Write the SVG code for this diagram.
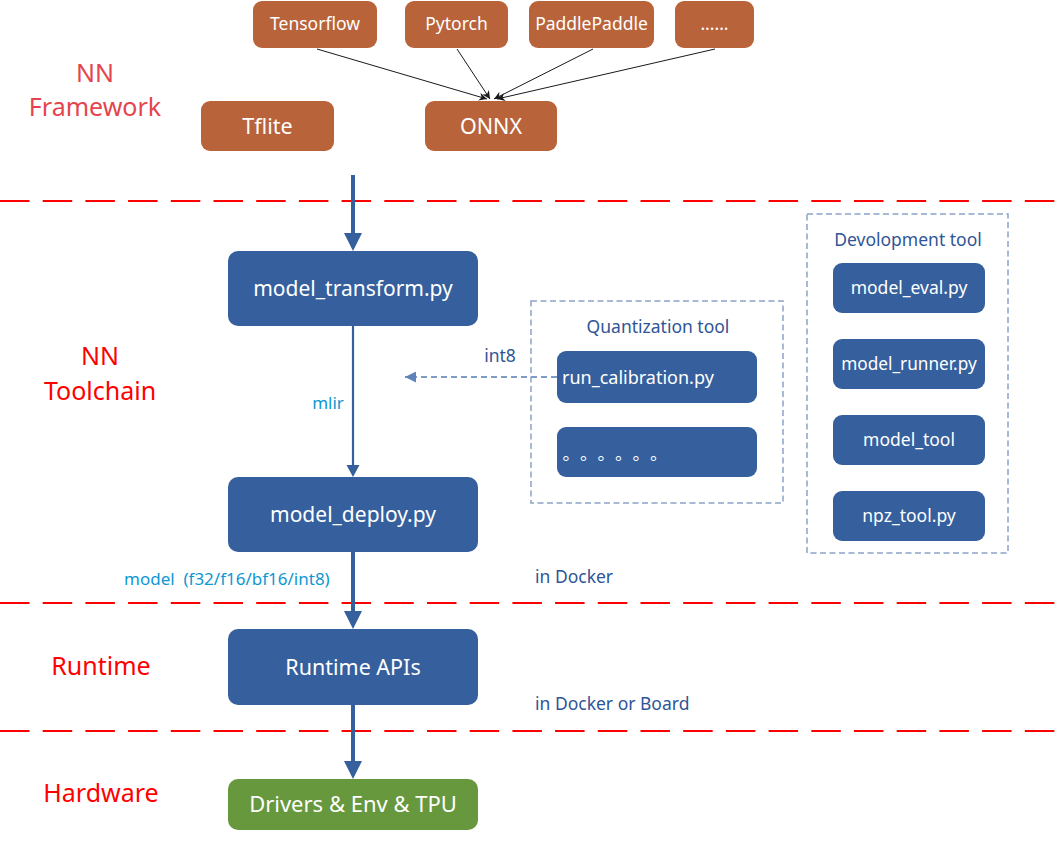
<svg xmlns="http://www.w3.org/2000/svg" width="1062" height="846" viewBox="0 0 1062 846">
<defs>
<style>
.or{fill:#B9633B}
.bl{fill:#355F9D}
.gr{fill:#67983E}
.wt{fill:#fff;font-family:"Noto Sans","Liberation Sans",sans-serif;text-anchor:middle}
.ws{fill:#fff;font-family:"Noto Sans","Liberation Sans",sans-serif;text-anchor:start}
.cjk{fill:#fff;font-family:"Noto Sans CJK SC",sans-serif;text-anchor:start}
.lbl{font-family:"Noto Sans","Liberation Sans",sans-serif;text-anchor:middle;font-size:25px}
.sep{stroke:#FF0000;stroke-width:2.2;stroke-dasharray:29.5 13.2;fill:none}
.grp{fill:none;stroke:#8BA3C7;stroke-width:1.5;stroke-dasharray:6 3.5}
.bt{font-family:"Noto Sans","Liberation Sans",sans-serif;fill:#2F5597;font-size:17.5px}
.lt{font-family:"Noto Sans","Liberation Sans",sans-serif;fill:#0E97D2;font-size:17px;white-space:pre}
</style>
<marker id="ab" viewBox="0 0 10 10" refX="10" refY="5" markerUnits="userSpaceOnUse" markerWidth="9" markerHeight="8" orient="auto"><path d="M0,0 L10,5 L0,10 L3,5 z" fill="#1a1a1a"/></marker>
<marker id="ad" viewBox="0 0 10 10" refX="10" refY="5" markerUnits="userSpaceOnUse" markerWidth="12" markerHeight="11" orient="auto"><path d="M0,0 L10,5 L0,10 z" fill="#5F82B8"/></marker>
</defs>
<rect width="1062" height="846" fill="#fff"/>

<g id="separators">
<line class="sep" x1="0" y1="201" x2="1062" y2="201"/>
<line class="sep" x1="0" y1="603" x2="1062" y2="603"/>
<line class="sep" x1="0" y1="731" x2="1062" y2="731"/>
</g>

<g id="labels">
<text class="lbl" x="95" y="82" fill="#E5444D">NN</text>
<text class="lbl" x="95" y="116" fill="#E5444D">Framework</text>
<text class="lbl" x="100" y="365" fill="#FF0000">NN</text>
<text class="lbl" x="100" y="400" fill="#FF0000">Toolchain</text>
<text class="lbl" x="101" y="675" fill="#FF0000">Runtime</text>
<text class="lbl" x="101" y="802" fill="#FF0000">Hardware</text>
</g>

<g id="quant_group">
<rect class="grp" x="531" y="301" width="252" height="202"/>
<text class="bt" x="658" y="333" text-anchor="middle">Quantization tool</text>
</g>
<g id="dev_group">
<rect class="grp" x="807" y="214" width="201" height="339"/>
<text class="bt" x="908" y="246" text-anchor="middle">Devolopment tool</text>
</g>

<g id="connectors">
<line x1="317" y1="49" x2="487" y2="99" stroke="#1a1a1a" stroke-width="1" marker-end="url(#ab)"/>
<line x1="457" y1="49" x2="490" y2="99" stroke="#1a1a1a" stroke-width="1" marker-end="url(#ab)"/>
<line x1="593" y1="49" x2="494" y2="99" stroke="#1a1a1a" stroke-width="1" marker-end="url(#ab)"/>
<line x1="715" y1="49" x2="497" y2="99" stroke="#1a1a1a" stroke-width="1" marker-end="url(#ab)"/>

<line x1="353" y1="175" x2="353" y2="234" stroke="#355F9D" stroke-width="4"/>
<polygon points="344,233 362,233 353,251" fill="#355F9D"/>

<line x1="353" y1="326" x2="353" y2="466" stroke="#355F9D" stroke-width="2.2"/>
<polygon points="346.5,465 359.5,465 353,477" fill="#355F9D"/>

<line x1="353" y1="552" x2="353" y2="612" stroke="#355F9D" stroke-width="4"/>
<polygon points="344,611 362,611 353,629" fill="#355F9D"/>

<line x1="353" y1="705" x2="353" y2="762" stroke="#355F9D" stroke-width="4"/>
<polygon points="344,761 362,761 353,779" fill="#355F9D"/>

<line x1="557" y1="377" x2="405" y2="377" stroke="#7F9CC6" stroke-width="1.8" stroke-dasharray="6 4" marker-end="url(#ad)"/>
<text class="bt" x="500" y="362" text-anchor="middle" font-size="17">int8</text>
<text class="lt" x="328" y="409" text-anchor="middle">mlir</text>
<text class="lt" x="124" y="585" xml:space="preserve">model  (f32/f16/bf16/int8)</text>
</g>

<g id="tensorflow"><rect class="or" x="253" y="1" width="124" height="47" rx="9"/><text class="wt" x="315" y="30" font-size="17.5">Tensorflow</text></g>
<g id="pytorch"><rect class="or" x="405" y="1" width="103" height="47" rx="9"/><text class="wt" x="456.5" y="30" font-size="17.5">Pytorch</text></g>
<g id="paddlepaddle"><rect class="or" x="529" y="1" width="125" height="47" rx="9"/><text class="wt" x="591.5" y="30" font-size="17.5">PaddlePaddle</text></g>
<g id="more"><rect class="or" x="675" y="1" width="79" height="47" rx="9"/><text class="wt" x="714.5" y="30" font-size="17.5">......</text></g>
<g id="tflite"><rect class="or" x="201" y="101" width="133" height="50" rx="9"/><text class="wt" x="267.5" y="134" font-size="21.5">Tflite</text></g>
<g id="onnx"><rect class="or" x="425" y="101" width="132" height="50" rx="9"/><text class="wt" x="491" y="134" font-size="21.5">ONNX</text></g>

<g id="model_transform"><rect class="bl" x="228" y="251" width="250" height="75" rx="10"/><text class="wt" x="353" y="296" font-size="21">model_transform.py</text></g>
<g id="model_deploy"><rect class="bl" x="228" y="477" width="250" height="75" rx="10"/><text class="wt" x="353" y="522" font-size="21">model_deploy.py</text></g>
<g id="run_calibration"><rect class="bl" x="557" y="351" width="200" height="52" rx="9"/><text class="ws" x="562" y="384" font-size="18">run_calibration.py</text></g>
<g id="quant_more"><rect class="bl" x="557" y="427" width="200" height="50" rx="9"/><text class="cjk" x="562.5 580 597.5 615 632.5 650" y="460" font-size="17.5">。。。。。。</text></g>

<g id="model_eval"><rect class="bl" x="833" y="263" width="152" height="50" rx="9"/><text class="wt" x="909" y="294" font-size="17.5">model_eval.py</text></g>
<g id="model_runner"><rect class="bl" x="833" y="339" width="152" height="50" rx="9"/><text class="wt" x="909" y="370" font-size="17.2">model_runner.py</text></g>
<g id="model_tool"><rect class="bl" x="833" y="415" width="152" height="50" rx="9"/><text class="wt" x="909" y="446" font-size="17.5">model_tool</text></g>
<g id="npz_tool"><rect class="bl" x="833" y="491" width="152" height="50" rx="9"/><text class="wt" x="909" y="522" font-size="17.5">npz_tool.py</text></g>

<text class="bt" x="535" y="583">in Docker</text>
<text class="bt" x="535" y="710">in Docker or Board</text>

<g id="runtime_apis"><rect class="bl" x="228" y="629" width="250" height="76" rx="10"/><text class="wt" x="353" y="675" font-size="21.5">Runtime APIs</text></g>
<g id="drivers"><rect class="gr" x="228" y="779" width="250" height="51" rx="10"/><text class="wt" x="353" y="812" font-size="22">Drivers &amp; Env &amp; TPU</text></g>
</svg>
